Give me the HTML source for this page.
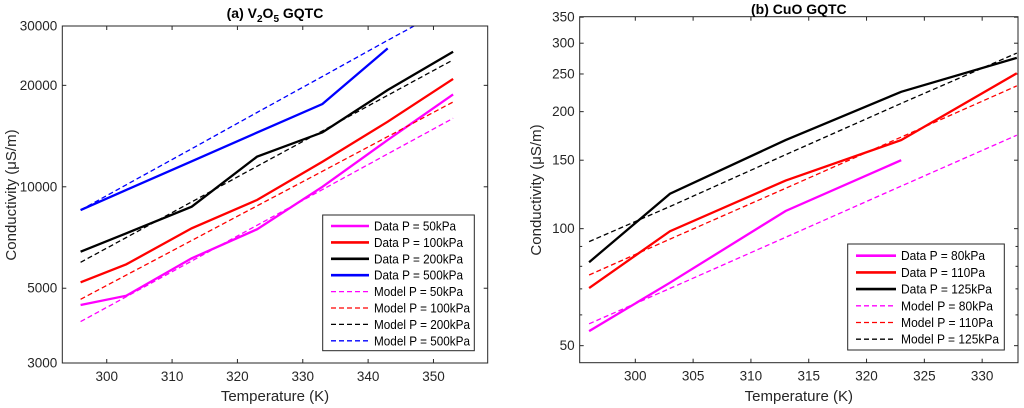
<!DOCTYPE html>
<html><head><meta charset="utf-8"><style>
html,body{margin:0;padding:0;background:#fff;}
svg{display:block;font-family:"Liberation Sans",sans-serif;}
</style></head><body>
<svg id="c" width="1024" height="408" viewBox="0 0 1024 408"></svg>
<script>
// ---- Panel (a) V2O5 data ----
const tempsA = [296,303,313,323,333,343,353];
const dataA50  = [4458,4753,6135,7478,10000,13770,18800];
const dataA100 = [5207,5889,7530,9135,11870,15600,20900];
const dataA200 = [6418,7278,8730,12280,14500,19370,25170];
const tempsA500 = [296,303,313,323,333,343];
const dataA500 = [8530,9790,11900,14480,17610,25750];
const modelA50  = [3980,4719,6021,7686,9807,12516,15970];
const modelA100 = [4636,5468,6930,8778,11120,14090,17850];
const modelA200 = [5970,7074,9018,11500,14650,18680,23790];
const modelA500 = [8530,10140,12970,16610,21250,27200,34660];
const yTicksA = [3000,5000,10000,20000,30000];
const xTicksA = [300,310,320,330,340,350];
// ---- Panel (b) CuO data ----
const tempsB = [296,303,313,323,333];
const tempsB80 = [296,303,313,323];
const dataB80  = [54.5,72.6,111,150];
const dataB110 = [70.3,98.5,132.9,169,251];
const dataB125 = [82,123,169,225,275];
const modelB80  = [56.9,70.2,95,128.7,174];
const modelB110 = [76,94,127,172,233];
const modelB125 = [92.6,114,155,210,283];
const yTicksB = [50,100,150,200,250,300,350];
const yMinorB = [60,70,80,90];
const xTicksB = [300,305,310,315,320,325,330];

const NS="http://www.w3.org/2000/svg";
const svg=document.getElementById('c');
function el(tag,attrs,parent){const e=document.createElementNS(NS,tag);for(const k in attrs)e.setAttribute(k,attrs[k]);(parent||svg).appendChild(e);return e;}

function panel(cfg){
  const g=el('g',{});
  
  
  const X=v=>cfg.x0+(v-cfg.xmin)/(cfg.xmax-cfg.xmin)*(cfg.x1-cfg.x0);
  const Y=v=>cfg.yb-(Math.log10(v)-Math.log10(cfg.ymin))/(Math.log10(cfg.ymax)-Math.log10(cfg.ymin))*(cfg.yb-cfg.yt);
  const clipId='clip'+cfg.name;
  const cp=el('clipPath',{id:clipId},g);
  el('rect',{x:cfg.x0,y:cfg.yt,width:cfg.x1-cfg.x0,height:cfg.yb-cfg.yt},cp);
  el('rect',{x:cfg.x0,y:cfg.yt,width:cfg.x1-cfg.x0,height:cfg.yb-cfg.yt,fill:'#fff'},g);
  const tk=el('g',{stroke:'#262626','stroke-width':1},g);
  cfg.yTicks.forEach(v=>{const y=Y(v);
    el('line',{x1:cfg.x0,x2:cfg.x0+4,y1:y,y2:y},tk);el('line',{x1:cfg.x1,x2:cfg.x1-4,y1:y,y2:y},tk);
    const t=el('text',{x:cfg.x0-5,y:y+4.5,'text-anchor':'end','font-size':13.5,fill:'#262626'},g);t.textContent=v;
    });
  (cfg.yMinor||[]).forEach(v=>{const y=Y(v);
    el('line',{x1:cfg.x0,x2:cfg.x0+2.5,y1:y,y2:y},tk);el('line',{x1:cfg.x1,x2:cfg.x1-2.5,y1:y,y2:y},tk);});
  cfg.xTicks.forEach(v=>{const x=X(v);
    el('line',{x1:x,x2:x,y1:cfg.yb,y2:cfg.yb-4},tk);el('line',{x1:x,x2:x,y1:cfg.yt,y2:cfg.yt+4},tk);
    const t=el('text',{x:x,y:cfg.yb+18,'text-anchor':'middle','font-size':13.5,fill:'#262626'},g);t.textContent=v;
    });
  const sg=el('g',{'clip-path':'url(#'+clipId+')',fill:'none'},g);
  cfg.series.forEach(s=>{
    const d=s.t.map((t,i)=>(i?'L':'M')+X(t).toFixed(1)+','+Y(s.v[i]).toFixed(1)).join('');
    const p=el('path',{d:d,stroke:s.c,'stroke-width':s.dash?1.3:2.3,'stroke-dasharray':s.dash?'5,3':'none'},sg);
    
    
  });
  el('rect',{x:cfg.x0,y:cfg.yt,width:cfg.x1-cfg.x0,height:cfg.yb-cfg.yt,fill:'none',stroke:'#262626','stroke-width':1},g);
  const tt=el('text',{x:(cfg.x0+cfg.x1)/2,y:cfg.titleY,'text-anchor':'middle','font-size':14,'font-weight':'bold',fill:'#000'},g);
  tt.innerHTML=cfg.title;
  
  const xl=el('text',{x:(cfg.x0+cfg.x1)/2,y:401,'text-anchor':'middle','font-size':15,fill:'#262626'},g);
  xl.textContent='Temperature (K)';
  
  const yl=el('text',{x:0,y:0,'text-anchor':'middle','font-size':15,fill:'#262626',transform:'translate('+cfg.ylx+','+cfg.yly+') rotate(-90)'},g);
  yl.textContent='Conductivity (\u03bcS/m)';
  
  const L=cfg.legend;
  const lg=el('g',{},g);
  
  el('rect',{x:L.x,y:L.y,width:L.w,height:L.h,fill:'#fff',stroke:'#262626','stroke-width':1},lg);
  cfg.series.forEach((s,i)=>{
    const y=L.y+L.first+i*L.dy;
    const ln=el('line',{x1:L.lx0,x2:L.lx1,y1:y,y2:y,stroke:s.c,'stroke-width':s.dash?1.3:2.6,'stroke-dasharray':s.dash?'5,3':'none'},lg);
    
    const t=el('text',{x:L.lx1+5,y:y+4.5,'font-size':13,fill:'#000',textLength:L.tl[i],lengthAdjust:'spacingAndGlyphs'},lg);t.textContent=s.label;
    
  });
}

panel({name:'panel-a',x0:62.3,x1:487.7,yt:26,yb:363,xmin:293.2,xmax:358.3,ymin:3000,ymax:30000,
  yTicks:yTicksA,xTicks:xTicksA,title:'(a) V<tspan dy="4" font-size="10">2</tspan><tspan dy="-4">O</tspan><tspan dy="4" font-size="10">5</tspan><tspan dy="-4"> GQTC</tspan>',titleY:18,
  ylx:16,yly:195,
  legend:{x:322.7,y:215,w:151.6,h:135.7,first:11,dy:16.4,lx0:331,lx1:369,tl:[82,89,89,89,89,96,96,96]},
  series:[
   {n:'data-50kpa',t:tempsA,v:dataA50,c:'#ff00ff',label:'Data P = 50kPa'},
   {n:'data-100kpa',t:tempsA,v:dataA100,c:'#ff0000',label:'Data P = 100kPa'},
   {n:'data-200kpa',t:tempsA,v:dataA200,c:'#000000',label:'Data P = 200kPa'},
   {n:'data-500kpa',t:tempsA500,v:dataA500,c:'#0000ff',label:'Data P = 500kPa'},
   {n:'model-50kpa',t:tempsA,v:modelA50,c:'#ff00ff',dash:1,label:'Model P = 50kPa'},
   {n:'model-100kpa',t:tempsA,v:modelA100,c:'#ff0000',dash:1,label:'Model P = 100kPa'},
   {n:'model-200kpa',t:tempsA,v:modelA200,c:'#000000',dash:1,label:'Model P = 200kPa'},
   {n:'model-500kpa',t:tempsA,v:modelA500,c:'#0000ff',dash:1,label:'Model P = 500kPa'}]});

panel({name:'panel-b',x0:579.7,x1:1018,yt:16.7,yb:362.7,xmin:295.19,xmax:333.1,ymin:45.2,ymax:351,
  yTicks:yTicksB,yMinor:yMinorB,xTicks:xTicksB,title:'(b) CuO GQTC',titleY:14,
  ylx:541,yly:190,
  legend:{x:847.7,y:244,w:156.6,h:106,first:11.7,dy:16.7,lx0:856,lx1:896,tl:[84,84,91,92,92,98]},
  series:[
   {n:'data-80kpa',t:tempsB80,v:dataB80,c:'#ff00ff',label:'Data P = 80kPa'},
   {n:'data-110pa',t:tempsB,v:dataB110,c:'#ff0000',label:'Data P = 110Pa'},
   {n:'data-125kpa',t:tempsB,v:dataB125,c:'#000000',label:'Data P = 125kPa'},
   {n:'model-80kpa',t:tempsB,v:modelB80,c:'#ff00ff',dash:1,label:'Model P = 80kPa'},
   {n:'model-110pa',t:tempsB,v:modelB110,c:'#ff0000',dash:1,label:'Model P = 110Pa'},
   {n:'model-125kpa',t:tempsB,v:modelB125,c:'#000000',dash:1,label:'Model P = 125kPa'}]});
</script>
</body></html>
